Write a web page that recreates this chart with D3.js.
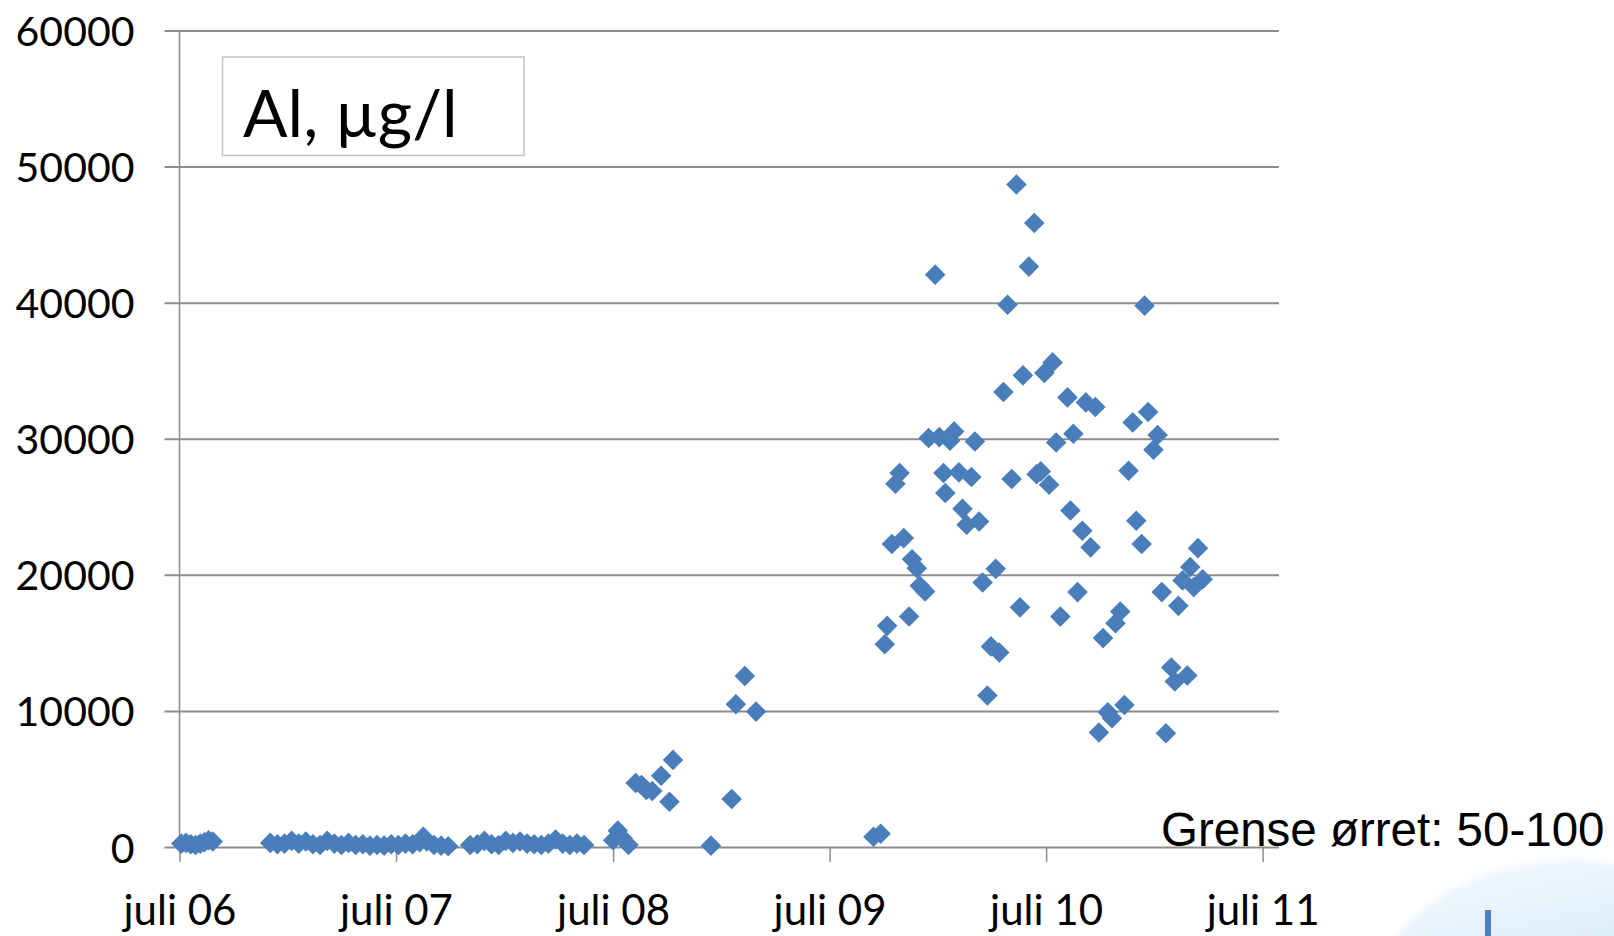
<!DOCTYPE html>
<html>
<head>
<meta charset="utf-8">
<script src="https://cdn.jsdelivr.net/npm/d3@7"></script>
<style>
	html, body { margin: 0; padding: 0; background: #fff; }
	svg { display: block; }
</style>
</head>
<body>
<svg width="1614" height="936"></svg>
<script>
// sample dates and Al values (µg/l)
const sampleDates = [
	"2006-07-04", "2006-07-12", "2006-07-20", "2006-07-28", "2006-08-05", "2006-08-12", "2006-08-19", "2006-08-26",
	"2006-12-01", "2006-12-13", "2006-12-25", "2007-01-06", "2007-01-18", "2007-01-30", "2007-02-11", "2007-02-23",
	"2007-03-07", "2007-03-19", "2007-03-31", "2007-04-12", "2007-04-24", "2007-05-06", "2007-05-18", "2007-05-30",
	"2007-06-11", "2007-06-23", "2007-07-05", "2007-07-17", "2007-07-29", "2007-08-10", "2007-08-16", "2007-08-22",
	"2007-09-03", "2007-09-15", "2007-09-27",
	"2007-11-03", "2007-11-15", "2007-11-27", "2007-12-09", "2007-12-21", "2008-01-02", "2008-01-14", "2008-01-26",
	"2008-02-07", "2008-02-19", "2008-03-02", "2008-03-14", "2008-03-26", "2008-04-07", "2008-04-19", "2008-05-01",
	"2008-05-13",
	"2008-07-01", "2008-07-09", "2008-07-17", "2008-07-27", "2008-08-08", "2008-08-18", "2008-08-26", "2008-09-05",
	"2008-09-20", "2008-10-04", "2008-10-10", "2008-12-13", "2009-01-17", "2009-01-24", "2009-02-08", "2009-02-27",
	"2009-09-13", "2009-09-25", "2009-10-02", "2009-10-06", "2009-10-14", "2009-10-20", "2009-10-27", "2009-11-03",
	"2009-11-12", "2009-11-17", "2009-11-25", "2009-11-30", "2009-12-09", "2009-12-15", "2009-12-26", "2010-01-02",
	"2010-01-09", "2010-01-12", "2010-01-20", "2010-01-27", "2010-02-04", "2010-02-10", "2010-02-17", "2010-02-25",
	"2010-03-03", "2010-03-10", "2010-03-16", "2010-03-24", "2010-03-30", "2010-04-07", "2010-04-13", "2010-04-20",
	"2010-04-27", "2010-05-04", "2010-05-12", "2010-05-18", "2010-05-23", "2010-06-02", "2010-06-11", "2010-06-15",
	"2010-06-22", "2010-06-28", "2010-07-06", "2010-07-12", "2010-07-18", "2010-07-25", "2010-08-06", "2010-08-11",
	"2010-08-16", "2010-08-23", "2010-08-31", "2010-09-06", "2010-09-14", "2010-09-22", "2010-09-28", "2010-10-05",
	"2010-10-13", "2010-10-20", "2010-10-26", "2010-11-03", "2010-11-10", "2010-11-17", "2010-11-24", "2010-11-30",
	"2010-12-09", "2010-12-14", "2010-12-20", "2010-12-29", "2011-01-05", "2011-01-12", "2011-01-19", "2011-01-28",
	"2011-02-03", "2011-02-09", "2011-02-16", "2011-02-24", "2011-03-01", "2011-03-07", "2011-03-14", "2011-03-22"
];

const alValues = [
	250, 300, 200, 150, 250, 350, 500, 400,
	300, 200, 250, 450, 250, 400, 200, 150,
	450, 250, 150, 300, 150, 200, 100, 150,
	100, 200, 150, 250, 200, 350, 750, 400,
	150, 100, 50,
	150, 200, 450, 200, 150, 450, 300, 400,
	250, 200, 150, 250, 550, 250, 150, 250,
	150,
	500, 1200, 650, 150, 4700, 4560, 4190, 4120,
	5240, 3330, 6400, 100, 3530, 10490, 12570, 9950,
	750, 970, 14900, 16250, 22260, 26690, 27480, 22700,
	16940, 21150, 20490, 19190, 18770, 30050, 42060, 30120,
	27480, 26010, 29850, 30540, 27530, 24850, 23680, 27190,
	29800, 23920, 19440, 11130, 14740, 20440, 14290, 33430,
	39850, 27040, 48680, 17610, 34660, 42650, 45860, 27400,
	27600, 34830, 26620, 35610, 29730, 16930, 33040, 24730,
	30370, 18730, 23240, 32670, 22020, 32330, 8410, 15350,
	9900, 9460, 16450, 17300, 10440, 27650, 31200, 23970,
	22260, 39780, 31960, 29190, 30270, 18730, 8360, 13190,
	12160, 17720, 19580, 12600, 20570, 19100, 21960, 19680
];

const yTickValues = [0, 10000, 20000, 30000, 40000, 50000, 60000];
const xTickDates = ["2006-07-01", "2007-07-01", "2008-07-01", "2009-07-01", "2010-07-01", "2011-07-01"];
const xTickLabels = ["juli 06", "juli 07", "juli 08", "juli 09", "juli 10", "juli 11"];
const titleText = "Al, µg/l";
const limitText = "Grense ørret: 50-100";

const CALIBRI = "Lato, 'Noto Sans', sans-serif";
const ARIAL = "'Liberation Sans', Arial, sans-serif";
const GRID = "#8c8c8c";

const svg = d3.select("svg");
const parse = d3.utcParse("%Y-%m-%d");

const plotLeft = 179.5, plotRight = 1281, plotTop = 30.5, plotBottom = 847;

const x = d3.scaleUtc()
	.domain([parse("2006-07-01"), parse("2011-08-01")])
	.range([plotLeft, plotRight]);

const y = d3.scaleLinear()
	.domain([0, 60000])
	.range([plotBottom, plotTop]);

// decoration in the lower right corner (piece of a picture)
const defs = svg.append("defs");
const grad = defs.append("linearGradient")
	.attr("id", "blob")
	.attr("x1", 0).attr("y1", 0).attr("x2", 0.3).attr("y2", 1);
grad.append("stop").attr("offset", "0%").attr("stop-color", "#f8fbfe");
grad.append("stop").attr("offset", "40%").attr("stop-color", "#ddeef9");
grad.append("stop").attr("offset", "100%").attr("stop-color", "#b9dcf2");
defs.append("filter").attr("id", "soft")
	.append("feGaussianBlur").attr("stdDeviation", 3);

svg.append("ellipse")
	.attr("cx", 1570).attr("cy", 1015)
	.attr("rx", 200).attr("ry", 155)
	.attr("fill", "url(#blob)")
	.attr("filter", "url(#soft)");
svg.append("rect")
	.attr("x", 1485).attr("y", 910)
	.attr("width", 6).attr("height", 30)
	.attr("fill", "#4f7fc0");

// horizontal gridlines + y labels
const yAxis = svg.append("g")
	.attr("transform", "translate(164.5,0)")
	.call(d3.axisLeft(y)
		.tickValues(yTickValues)
		.tickFormat(d3.format("d"))
		.tickSizeInner(-(1279 - 164.5))
		.tickSizeOuter(0)
		.tickPadding(30));
yAxis.select(".domain").remove();
yAxis.selectAll(".tick line")
	.attr("stroke", GRID)
	.attr("stroke-width", 2);
yAxis.selectAll(".tick text")
	.attr("fill", "#000")
	.attr("dy", null)
	.attr("y", 15)
	.style("font-family", CALIBRI)
	.style("font-size", "41px");

// x axis ticks + labels
const xAxis = svg.append("g")
	.attr("transform", "translate(0," + plotBottom + ")")
	.call(d3.axisBottom(x)
		.tickValues(xTickDates.map(parse))
		.tickFormat((d, i) => xTickLabels[i])
		.tickSizeInner(15)
		.tickSizeOuter(0));
xAxis.select(".domain").remove();
xAxis.selectAll(".tick line")
	.attr("stroke", GRID)
	.attr("stroke-width", 1.5);
xAxis.selectAll(".tick text")
	.attr("fill", "#000")
	.attr("dy", null)
	.attr("y", 78)
	.style("font-family", CALIBRI)
	.style("font-size", "42px");

// vertical axis line
svg.append("line")
	.attr("x1", plotLeft).attr("x2", plotLeft)
	.attr("y1", plotTop).attr("y2", plotBottom)
	.attr("stroke", GRID)
	.attr("stroke-width", 1.5);

// title box
svg.append("rect")
	.attr("x", 222.5).attr("y", 57)
	.attr("width", 301.5).attr("height", 98.5)
	.attr("fill", "#fff")
	.attr("stroke", "#c3c3c3")
	.attr("stroke-width", 1.5);
svg.append("text")
	.attr("x", 243).attr("y", 136.5)
	.style("font-family", CALIBRI)
	.style("font-size", "66px")
	.text(titleText);

// points
const points = sampleDates.map((d, i) => ({ date: parse(d), value: alValues[i] }));
svg.append("g")
	.selectAll("path")
	.data(points)
	.enter().append("path")
	.attr("d", d3.symbol().type(d3.symbolSquare).size(212))
	.attr("transform", d => "translate(" + x(d.date) + "," + y(d.value) + ") rotate(45)")
	.attr("fill", "#4a7ebb");

// limit note
svg.append("text")
	.attr("x", 1161).attr("y", 846)
	.style("font-family", ARIAL)
	.style("font-size", "47.5px")
	.text(limitText);
</script>
</body>
</html>
